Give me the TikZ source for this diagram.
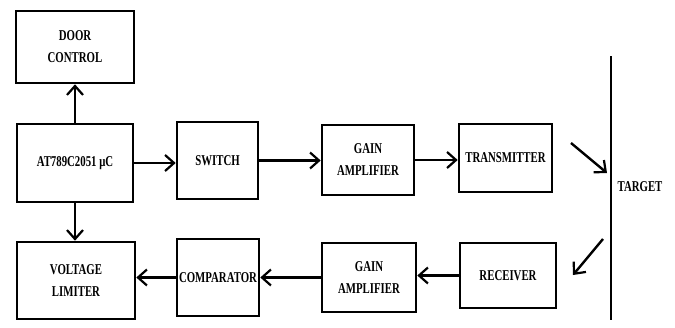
\documentclass[tikz,border=0pt]{standalone}
\usepackage{fontspec}
\setmainfont[FakeStretch=0.72]{Liberation Serif}
\usetikzlibrary{arrows.meta}
\begin{document}
\begin{tikzpicture}[x=1pt,y=-1pt,
  blk/.style={draw, line width=2.6pt, inner sep=0pt, align=center,
    font=\bfseries\fontsize{15}{22}\selectfont},
  conn/.style={line width=2.4pt, -{Straight Barb[length=9pt,width=16pt,line width=2.2pt]}},
  lbl/.style={font=\bfseries\fontsize{15}{22}\selectfont, inner sep=0pt}]
\useasboundingbox (0,0) rectangle (675,327);
\node[blk, minimum width=118pt, minimum height=72pt] (door) at (75,47) {DOOR\\CONTROL};
\node[blk, minimum width=116pt, minimum height=78pt] (at) at (75,163) {AT789C2051 μC};
\node[blk, minimum width=81pt, minimum height=77pt] (sw) at (217.5,160.5) {SWITCH};
\node[blk, minimum width=92pt, minimum height=70pt] (ga1) at (368,160) {GAIN\\AMPLIFIER};
\node[blk, minimum width=93pt, minimum height=68pt] (tx) at (505.5,158) {TRANSMITTER};
\node[blk, minimum width=118pt, minimum height=77pt] (vl) at (76,280.5) {VOLTAGE\\LIMITER};
\node[blk, minimum width=82pt, minimum height=77pt] (cmp) at (218,277.5) {COMPARATOR};
\node[blk, minimum width=94pt, minimum height=69pt] (ga2) at (369,277.5) {GAIN\\AMPLIFIER};
\node[blk, minimum width=96pt, minimum height=65pt] (rx) at (508,275.5) {RECEIVER};
\coordinate (ttop) at (611,56);
\coordinate (tbot) at (611,320);
\draw[line width=1.3pt] (ttop) -- (tbot);
\node[lbl] (tgt) at (640,187) {TARGET};
\coordinate (d1a) at (571,143);
\coordinate (d1b) at (607,173);
\coordinate (d2a) at (603,239);
\coordinate (d2b) at (573,275);
\draw[conn] (at.north) -- (door.south);
\draw[conn] (at.east) -- (at.east -| sw.west);
\draw[conn] (sw.east) -- (sw.east -| ga1.west);
\draw[conn] (ga1.east) -- (ga1.east -| tx.west);
\draw[conn] (d1a) -- (d1b);
\draw[conn] (d2a) -- (d2b);
\draw[conn] (at.south) -- (at.south |- vl.north);
\draw[conn] (rx.west) -- (rx.west -| ga2.east);
\draw[conn] (ga2.west) -- (ga2.west -| cmp.east);
\draw[conn] (cmp.west) -- (cmp.west -| vl.east);
\end{tikzpicture}
\end{document}
